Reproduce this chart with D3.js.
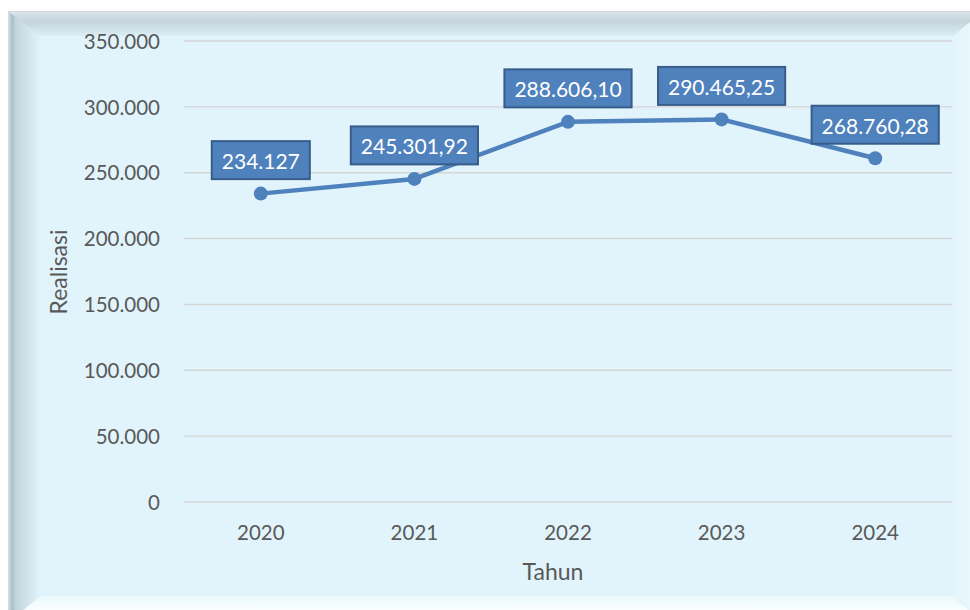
<!DOCTYPE html>
<html>
<head>
<meta charset="utf-8">
<script src="https://cdn.jsdelivr.net/npm/d3@7"></script>
<style>
  body { margin: 0; background: #ffffff; }
  svg { display: block; }
  text { font-family: Lato, "Open Sans", sans-serif; }
</style>
</head>
<body>
<div id="chart"></div>
<script>

// data
let years = ["2020", "2021", "2022", "2023", "2024"];
let values = [234127, 245301.92, 288606.10, 290465.25, 261000];
let labels = ["234.127", "245.301,92", "288.606,10", "290.465,25", "268.760,28"];
let yTicks = [0, 50000, 100000, 150000, 200000, 250000, 300000, 350000];

main();

function main() {

    let width = 970, height = 610;

    let svg = d3.select("#chart")
        .append("svg")
        .attr("width", width)
        .attr("height", height);

    let defs = svg.append("defs");

    //bevel gradients
    function grad(id, x2, y2, stops) {
        let g = defs.append("linearGradient")
            .attr("id", id)
            .attr("x1", 0).attr("y1", 0)
            .attr("x2", x2).attr("y2", y2);
        stops.forEach((s) => {
            g.append("stop").attr("offset", s[0]).attr("stop-color", s[1]);
        });
    }
    grad("g_top", 0, 1, [[0, "#d8e4e8"], [0.4, "#c4d5db"], [1, "#dbeef5"]]);
    grad("g_left", 1, 0, [[0, "#cfdce0"], [0.1, "#a9bec6"], [0.22, "#c3d5dc"], [1, "#e0f3fa"]]);
    grad("g_right", 1, 0, [[0, "#e3f5fb"], [1, "#eaf9fd"]]);
    grad("g_bottom", 0, 1, [[0, "#e9f9fd"], [0.6, "#fbfeff"], [1, "#ffffff"]]);

    //frame
    let ox1 = 9, oy1 = 12, ox2 = 982, oy2 = 622;
    let ix1 = 40, iy1 = 36, ix2 = 953, iy2 = 596;

    let frame = svg.append("g").attr("class", "frame");

    frame.append("rect")
        .attr("x", ox1 - 1).attr("y", oy1 - 1)
        .attr("width", ox2 - ox1 + 2).attr("height", oy2 - oy1 + 2)
        .style("fill", "#d3d9dc");

    frame.append("rect")
        .attr("x", ix1).attr("y", iy1)
        .attr("width", ix2 - ix1).attr("height", iy2 - iy1)
        .style("fill", "#e1f4fb");

    let bevels = [
        {id: "g_top", p: [[ox1, oy1], [ox2, oy1], [ix2, iy1], [ix1, iy1]]},
        {id: "g_left", p: [[ox1, oy1], [ix1, iy1], [ix1, iy2], [ox1, oy2]]},
        {id: "g_right", p: [[ox2, oy1], [ox2, oy2], [ix2, iy2], [ix2, iy1]]},
        {id: "g_bottom", p: [[ox1, oy2], [ix1, iy2], [ix2, iy2], [ox2, oy2]]}
    ];

    frame.selectAll(".bevel")
        .data(bevels)
        .enter()
        .append("polygon")
        .attr("class", "bevel")
        .attr("points", (d) => d.p.map((q) => q.join(",")).join(" "))
        .style("fill", (d) => "url(#" + d.id + ")");

    //scales
    let x = d3.scaleBand()
        .domain(years)
        .range([184, 952]);

    let y = d3.scaleLinear()
        .domain([0, 350000])
        .range([502, 41]);

    //grid
    let grid_g = svg.append("g");
    grid_g.selectAll(".grid")
        .data(yTicks)
        .enter()
        .append("line")
        .attr("class", "grid")
        .attr("x1", 184)
        .attr("x2", 952)
        .attr("y1", (d) => y(d))
        .attr("y2", (d) => y(d))
        .style("stroke", "#d5d5d5")
        .style("stroke-width", 1.4);

    //y axis
    let fmt = d3.formatLocale({decimal: ",", thousands: ".", grouping: [3], currency: ["", ""]}).format(",");

    let yAxis = svg.append("g")
        .attr("transform", "translate(160,0)")
        .call(d3.axisLeft(y).tickValues(yTicks).tickFormat(fmt).tickSize(0).tickPadding(0));
    yAxis.select(".domain").remove();
    yAxis.selectAll("text")
        .attr("dy", "0.35em")
        .style("font-family", "Lato, sans-serif")
        .style("font-size", "20.5px")
        .style("fill", "#595959");

    //x axis
    let xAxis = svg.append("g")
        .attr("transform", "translate(0,540)")
        .call(d3.axisBottom(x).tickSize(0).tickPadding(0));
    xAxis.select(".domain").remove();
    xAxis.selectAll("text")
        .attr("dy", 0)
        .style("font-family", "Lato, sans-serif")
        .style("font-size", "20.5px")
        .style("fill", "#595959");

    //axis titles
    svg.append("text")
        .attr("x", 553)
        .attr("y", 580)
        .attr("text-anchor", "middle")
        .style("font-size", "23px")
        .style("fill", "#595959")
        .text("Tahun");

    svg.append("text")
        .attr("transform", "translate(67,272) rotate(-90)")
        .attr("text-anchor", "middle")
        .style("font-size", "23px")
        .style("fill", "#595959")
        .text("Realisasi");

    //line
    let points = years.map((d, i) => ({year: d, value: values[i], label: labels[i]}));

    let line = d3.line()
        .x((d) => x(d.year) + x.bandwidth() / 2)
        .y((d) => y(d.value));

    svg.append("path")
        .datum(points)
        .attr("d", line)
        .style("fill", "none")
        .style("stroke", "#4f81bd")
        .style("stroke-width", 4.5)
        .style("stroke-linejoin", "round");

    svg.selectAll(".dot")
        .data(points)
        .enter()
        .append("circle")
        .attr("class", "dot")
        .attr("cx", (d) => x(d.year) + x.bandwidth() / 2)
        .attr("cy", (d) => y(d.value))
        .attr("r", 7)
        .style("fill", "#4f81bd");

    //data labels
    let lb = svg.selectAll(".lbl")
        .data(points)
        .enter()
        .append("g")
        .attr("class", "lbl");

    lb.each(function (d) {
        let g = d3.select(this);
        let cx = x(d.year) + x.bandwidth() / 2;
        let bottom = y(d.value) - 14.5;
        let rect = g.append("rect");
        let t = g.append("text")
            .attr("x", cx)
            .attr("y", bottom - 10)
            .attr("text-anchor", "middle")
            .style("font-size", "21px")
            .style("fill", "#ffffff")
            .text(d.label);
        let w = t.node().getComputedTextLength() + 20;
        rect.attr("x", cx - w / 2)
            .attr("y", bottom - 38)
            .attr("width", w)
            .attr("height", 38)
            .style("fill", "#4f81bd")
            .style("stroke", "#385d8a")
            .style("stroke-width", 2);
    });
}
</script>
</body>
</html>
